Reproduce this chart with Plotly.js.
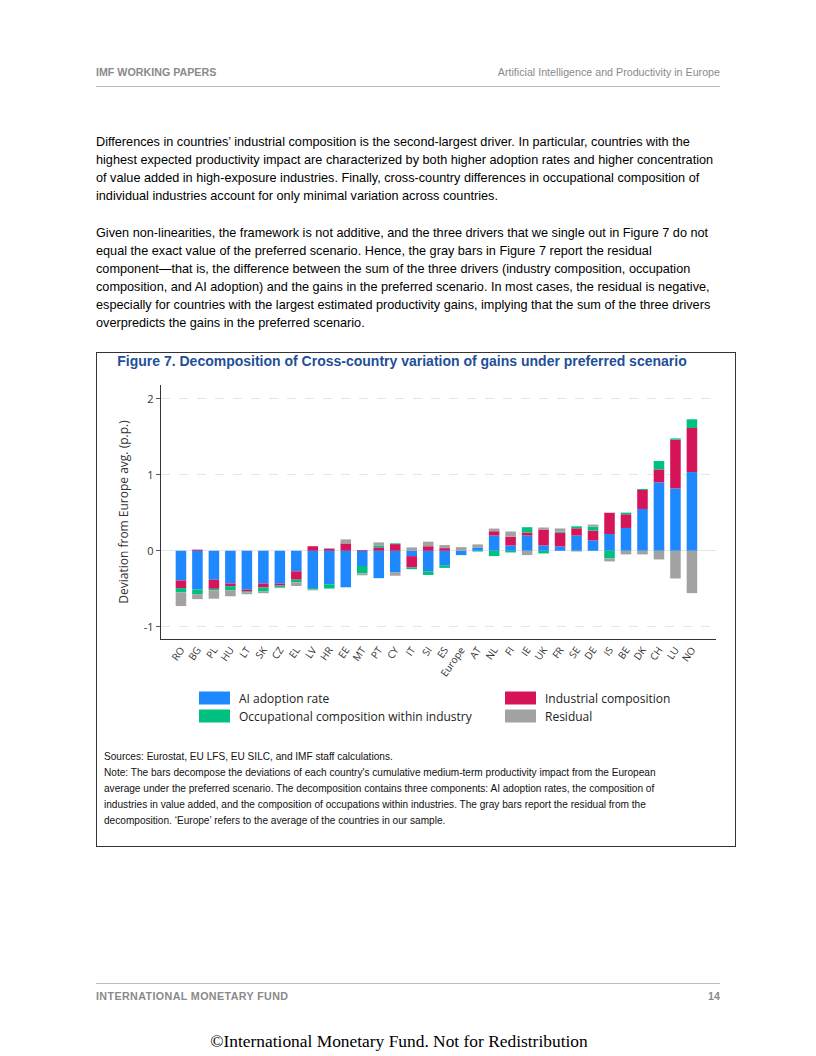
<!DOCTYPE html>
<html><head><meta charset="utf-8">
<script src="https://cdn.plot.ly/plotly-3.0.1.min.js"></script>
<style>
body{margin:0;background:#fff;}
#page{position:relative;width:816px;height:1056px;overflow:hidden;font-family:"Liberation Sans",Arial,sans-serif;color:#000;}
.abs{position:absolute;white-space:nowrap;}
.hdr{font-size:10.7px;color:#8a8a8a;}
.body{font-size:12.7px;line-height:18px;left:96px;}
.note{font-size:10.1px;line-height:16px;left:104px;color:#111;}
#box{position:absolute;left:96px;top:352px;width:638px;height:493px;border:1px solid #333;}
#chart{position:absolute;left:96px;top:378px;width:639px;height:360px;}
</style></head><body>
<div id="page">
  <div class="abs hdr" style="left:96px;top:66px;font-weight:bold;">IMF WORKING PAPERS</div>
  <div class="abs hdr" style="right:96px;top:66px;">Artificial Intelligence and Productivity in Europe</div>
  <div class="abs" style="left:96px;top:86px;width:624px;height:1px;background:#bdbdbd;"></div>

  <div class="abs body" style="top:133px;">Differences in countries’ industrial composition is the second-largest driver. In particular, countries with the<br>highest expected productivity impact are characterized by both higher adoption rates and higher concentration<br>of value added in high-exposure industries. Finally, cross-country differences in occupational composition of<br>individual industries account for only minimal variation across countries.</div>

  <div class="abs body" style="top:224px;">Given non-linearities, the framework is not additive, and the three drivers that we single out in Figure 7 do not<br>equal the exact value of the preferred scenario. Hence, the gray bars in Figure 7 report the residual<br>component—that is, the difference between the sum of the three drivers (industry composition, occupation<br>composition, and AI adoption) and the gains in the preferred scenario. In most cases, the residual is negative,<br>especially for countries with the largest estimated productivity gains, implying that the sum of the three drivers<br>overpredicts the gains in the preferred scenario.</div>

  <div id="box"></div>
  <div class="abs" style="left:102px;width:600px;top:353px;text-align:center;font-weight:bold;font-size:14px;color:#1f4f98;">Figure 7. Decomposition of Cross-country variation of gains under preferred scenario</div>
  <div id="chart"></div>
  <div class="abs note" style="top:749px;">Sources: Eurostat, EU LFS, EU SILC, and IMF staff calculations.<br>Note: The bars decompose the deviations of each country's cumulative medium-term productivity impact from the European<br>average under the preferred scenario. The decomposition contains three components: AI adoption rates, the composition of<br>industries in value added, and the composition of occupations within industries. The gray bars report the residual from the<br>decomposition. ‘Europe’ refers to the average of the countries in our sample.</div>

  <div class="abs" style="left:96px;top:983px;width:624px;height:1px;background:#bdbdbd;"></div>
  <div class="abs hdr" style="left:96px;top:990px;font-weight:900;letter-spacing:0.4px;">INTERNATIONAL MONETARY FUND</div>
  <div class="abs hdr" style="right:96px;top:990px;font-weight:900;">14</div>
  <div class="abs" style="left:0;width:798px;top:1031px;text-align:center;font-family:'Liberation Serif','Times New Roman',serif;font-size:17.4px;">©International Monetary Fund. Not for Redistribution</div>
</div>
<script>
var countries = ['RO','BG','PL','HU','LT','SK','CZ','EL','LV','HR','EE','MT','PT','CY','IT','SI','ES','Europe','AT','NL','FI','IE','UK','FR','SE','DE','IS','BE','DK','CH','LU','NO'];
var aiAdoption = [-0.39,-0.51,-0.38,-0.43,-0.51,-0.43,-0.43,-0.27,-0.49,-0.44,-0.48,-0.20,-0.36,-0.28,-0.07,-0.27,-0.19,-0.057,0.044,0.20,0.07,0.20,0.07,0.057,0.20,0.136,0.22,0.30,0.55,0.90,0.82,1.035];
var industrial = [-0.10,0.015,-0.12,-0.035,-0.026,-0.053,-0.026,-0.11,0.06,0.026,0.097,0.01,0.044,0.088,-0.15,0.06,0.035,0,0,0.057,0.114,0.04,0.21,0.18,0.096,0.13,0.28,0.18,0.25,0.17,0.64,0.58];
var occupational = [-0.057,-0.06,-0.02,-0.053,-0.013,-0.053,-0.026,-0.035,-0.02,-0.057,0,-0.096,0.026,0.01,-0.022,-0.048,-0.035,0,-0.01,-0.07,-0.022,0.07,-0.035,0.013,0.026,0.053,-0.10,0.022,0.013,0.11,0.018,0.114];
var residual = [-0.18,-0.066,-0.11,-0.08,-0.022,-0.022,-0.01,-0.048,-0.01,0.01,0.053,-0.026,0.04,-0.048,0.044,0.06,0.04,0.048,0.04,0.035,0.07,-0.057,0.026,0.044,-0.01,0.026,-0.04,-0.048,-0.048,-0.114,-0.364,-0.557];
var seriesNames = ['AI adoption rate','Industrial composition','Occupational composition within industry','Residual'];
var seriesColors = ['#1e88ff','#d6145a','#00c080','#a2a2a2'];
var yTicks = [-1,0,1,2];

var seriesData = [aiAdoption, industrial, occupational, residual];
var traces = seriesData.map(function(vals,i){
  return {type:'bar', x:countries, y:vals, name:seriesNames[i],
    marker:{color:seriesColors[i], line:{width:0}}, hoverinfo:'skip'};
});

var W=639,H=360,ML=65,MR=19,MT=7,MB=99;
var pw=W-ML-MR, ph=H-MT-MB;
function fx(px){return (px-ML)/pw;}
function fy(py){return (H-MB-py)/ph;}

// legend laid out as 2x2 grid like the reference
var legPos = [[103,320],[409,320],[103,338],[409,338]];
var shapes=[], annotations=[];
seriesNames.forEach(function(n,i){
  var p=legPos[i];
  shapes.push({type:'rect',xref:'paper',yref:'paper',x0:fx(p[0]),x1:fx(p[0]+31),y0:fy(p[1]+6.5),y1:fy(p[1]-6.5),
    fillcolor:seriesColors[i],line:{width:0}});
  annotations.push({xref:'paper',yref:'paper',x:fx(p[0]+38),y:fy(p[1]),xanchor:'left',yanchor:'middle',
    text:n,showarrow:false,font:{family:'Open Sans',size:12,color:'#222'}});
});

var layout = {
  width:W,height:H,margin:{l:ML,r:MR,t:MT,b:MB},
  paper_bgcolor:'rgba(0,0,0,0)',plot_bgcolor:'rgba(0,0,0,0)',
  barmode:'relative',bargap:0.36,showlegend:false,hovermode:false,
  font:{family:'Open Sans',size:11,color:'#333'},
  xaxis:{type:'category',range:[-1.21,32.46],tickangle:-55,tickfont:{size:10,color:'#333'},
    showline:true,linecolor:'#333',linewidth:1.2,ticks:'',showgrid:false,zeroline:false,fixedrange:true},
  yaxis:{range:[-1.16,2.18],tickvals:yTicks,ticktext:yTicks.map(String),ticks:'outside',ticklen:4,tickcolor:'#555',
    tickfont:{size:11,color:'#333'},showline:true,linecolor:'#333',linewidth:1.2,
    showgrid:true,gridcolor:'#e6e6e6',griddash:'dash',gridwidth:1,
    zeroline:true,zerolinecolor:'#e6e6e6',zerolinewidth:1,
    title:{text:'Deviation from Europe avg. (p.p.)',font:{size:12,color:'#333'},standoff:12},fixedrange:true},
  shapes:shapes,annotations:annotations
};
Plotly.newPlot('chart',traces,layout,{staticPlot:true,displayModeBar:false});
</script>
</body></html>
